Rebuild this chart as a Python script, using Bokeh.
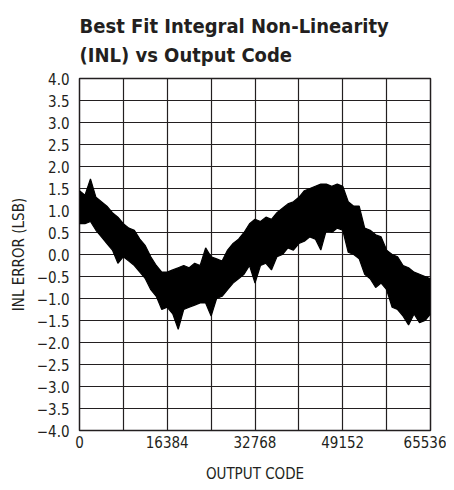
from bokeh.plotting import figure
from bokeh.models import FixedTicker, Title, Range1d
from bokeh.embed import file_html
from bokeh.resources import INLINE

title_line1 = "Best Fit Integral Non-Linearity"
title_line2 = "(INL) vs Output Code"
x_label = "OUTPUT CODE"
y_label = "INL ERROR (LSB)"

x_ticks = [0, 16384, 32768, 49152, 65536]
x_grid = [0, 8192, 16384, 24576, 32768, 40960, 49152, 57344, 65536]
y_ticks = [-4.0, -3.5, -3.0, -2.5, -2.0, -1.5, -1.0, -0.5, 0.0,
           0.5, 1.0, 1.5, 2.0, 2.5, 3.0, 3.5, 4.0]
y_tick_labels = ["\u22124.0", "\u22123.5", "\u22123.0", "\u22122.5", "\u22122.0",
                 "\u22121.5", "\u22121.0", "\u22120.5", "0.0", "0.5", "1.0",
                 "1.5", "2.0", "2.5", "3.0", "3.5", "4.0"]

codes = [0, 1024, 2048, 3072, 4096, 5120, 6144, 7168, 8192, 9216, 10240,
         11264, 12288, 13312, 14336, 15360, 16384, 17408, 18432, 19456,
         20480, 21504, 22528, 23552, 24576, 25600, 26624, 27648, 28672,
         29696, 30720, 31744, 32768, 33792, 34816, 35840, 36864, 37888,
         38912, 39936, 40960, 41984, 43008, 44032, 45056, 46080, 47104,
         48128, 49152, 50176, 51200, 52224, 53248, 54272, 55296, 56320,
         57344, 58368, 59392, 60416, 61440, 62464, 63488, 64512, 65536]

inl_upper = [1.45, 1.35, 1.72, 1.30, 1.20, 1.10, 0.95, 0.85, 0.70, 0.60, 0.55,
             0.35, 0.20, -0.05, -0.25, -0.40, -0.40, -0.35, -0.30, -0.25,
             -0.30, -0.20, -0.25, 0.15, -0.05, -0.10, -0.15, 0.10, 0.25,
             0.35, 0.50, 0.70, 0.80, 0.75, 0.85, 0.80, 0.95, 1.05,
             1.15, 1.20, 1.30, 1.45, 1.50, 1.55, 1.60, 1.60, 1.55,
             1.60, 1.55, 1.20, 1.10, 1.10, 0.60, 0.55, 0.45, 0.40,
             0.10, 0.00, -0.05, -0.25, -0.30, -0.40, -0.45, -0.50, -0.55]

inl_lower = [0.70, 0.70, 0.75, 0.55, 0.40, 0.25, 0.10, -0.20, -0.05, -0.15, -0.25,
             -0.40, -0.55, -0.80, -0.95, -1.25, -1.20, -1.35, -1.70, -1.25,
             -1.20, -1.15, -1.10, -1.10, -1.40, -1.00, -0.95, -0.80, -0.65,
             -0.55, -0.45, -0.25, -0.65, -0.25, -0.20, -0.35, -0.05, 0.00,
             0.15, 0.10, 0.25, 0.30, 0.40, 0.35, 0.10, 0.55, 0.50,
             0.60, 0.55, 0.05, 0.00, -0.10, -0.45, -0.55, -0.75, -0.65,
             -0.80, -1.20, -1.25, -1.40, -1.60, -1.35, -1.55, -1.50, -1.35]

FONT = "'DejaVu Sans Condensed', Roboto, sans-serif"
INK = "#231f20"

p = figure(frame_width=351, frame_height=352,
           x_range=Range1d(0, 65536), y_range=Range1d(-4, 4),
           output_backend="svg", toolbar_location=None,
           min_border_left=60, min_border_right=16, min_border_bottom=52,
           min_border_top=8, background_fill_color="white",
           border_fill_color="white", margin=(0, 0, 0, 6))

p.varea(x=codes, y1=inl_lower, y2=inl_upper, fill_color="black")
p.line(x=codes, y=inl_upper, line_color="black", line_width=1.2)
p.line(x=codes, y=inl_lower, line_color="black", line_width=1.2)

title = Title(text=title_line1 + "\n" + title_line2, text_font=FONT,
              text_font_style="bold", text_font_size="20px", text_color=INK,
              align="left", standoff=23, text_line_height=1.2)
p.add_layout(title, "above")

p.xaxis.ticker = FixedTicker(ticks=x_ticks, minor_ticks=[])
p.yaxis.ticker = FixedTicker(ticks=y_ticks, minor_ticks=[])
p.yaxis.major_label_overrides = {t: l for t, l in zip(y_ticks, y_tick_labels)}
p.xgrid.ticker = FixedTicker(ticks=x_grid)
p.ygrid.ticker = FixedTicker(ticks=y_ticks)

for g in (p.xgrid, p.ygrid):
    g.grid_line_color = INK
    g.grid_line_width = 1.2
    g.grid_line_alpha = 1.0

for ax in (p.xaxis, p.yaxis):
    ax.axis_line_color = None
    ax.major_tick_out = 0
    ax.major_tick_in = 0
    ax.minor_tick_out = 0
    ax.minor_tick_in = 0
    ax.major_label_text_font = FONT
    ax.major_label_text_font_size = "15px"
    ax.major_label_text_color = INK
    ax.axis_label_text_font = FONT
    ax.axis_label_text_font_size = "15px"
    ax.axis_label_text_font_style = "normal"
    ax.axis_label_text_color = INK

p.xaxis.axis_label = x_label
p.yaxis.axis_label = y_label
p.xaxis.major_label_standoff = 5
p.yaxis.major_label_standoff = 10
p.xaxis.axis_label_standoff = 14
p.yaxis.axis_label_standoff = 6

p.outline_line_color = INK
p.outline_line_width = 1.5

open("out.html", "w").write(file_html(p, INLINE))
